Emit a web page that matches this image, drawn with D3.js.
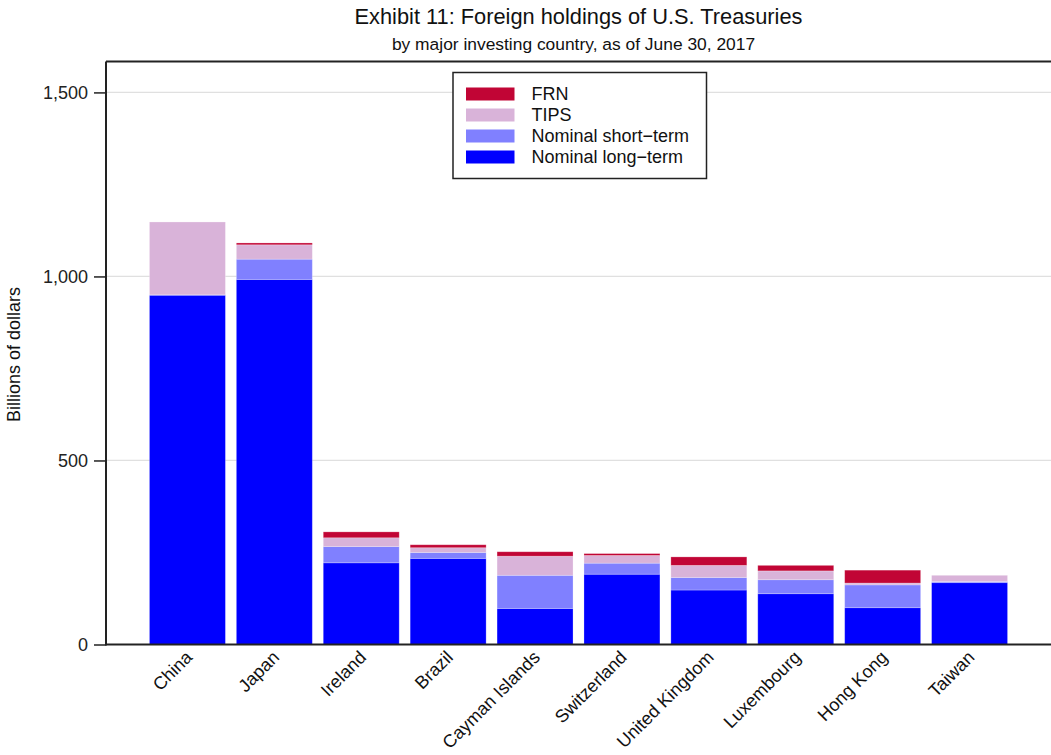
<!DOCTYPE html>
<html>
<head>
<meta charset="utf-8">
<script src="https://cdn.jsdelivr.net/npm/d3@7"></script>
<style>
  body { margin: 0; background: #fff; }
  svg { display: block; font-family: "Liberation Sans", Arial, sans-serif; }
</style>
</head>
<body>
<svg id="chart" width="1051" height="755"></svg>
<script>
const countries = ["China", "Japan", "Ireland", "Brazil", "Cayman Islands", "Switzerland", "United Kingdom", "Luxembourg", "Hong Kong", "Taiwan"];
const nominalLong  = [949, 992, 222, 234, 98, 191, 148, 138, 100, 168];
const nominalShort = [1, 55, 44, 16, 90, 30, 34, 38, 62, 3];
const tips         = [198, 39, 24, 13, 52, 21, 33, 24, 5, 17];
const frn          = [0, 5, 16, 8, 12, 5, 23, 15, 35, 0];
const yTicks = [0, 500, 1000, 1500];
const seriesNames = ["Nominal long\u2212term", "Nominal short\u2212term", "TIPS", "FRN"];
const seriesColors = ["#0000FF", "#8080FF", "#D9B3D9", "#C10535"];

const svg = d3.select("#chart");
const pLeft = 106, pRight = 1051, pTop = 61.5, pBottom = 644.5;

const rows = countries.map((c, i) => ({
  country: c, s0: nominalLong[i], s1: nominalShort[i], s2: tips[i], s3: frn[i]
}));
const stacked = d3.stack().keys(["s0", "s1", "s2", "s3"])(rows);

const x = d3.scaleBand().domain(countries).range([pLeft, pRight]).paddingInner(0.126).paddingOuter(0.5);
const y = d3.scaleLinear().domain([0, 1584]).range([pBottom, pTop]);

// gridlines
svg.append("g").selectAll("line").data(yTicks.filter(d => d > 0)).join("line")
  .attr("x1", pLeft).attr("x2", pRight)
  .attr("y1", d => y(d)).attr("y2", d => y(d))
  .attr("stroke", "#e0e0e0").attr("stroke-width", 1.2);

// bars
svg.append("g").selectAll("g").data(stacked).join("g")
  .attr("fill", (d, i) => seriesColors[i])
  .selectAll("rect").data(d => d).join("rect")
  .attr("x", d => x(d.data.country))
  .attr("width", x.bandwidth())
  .attr("y", d => y(d[1]))
  .attr("height", d => Math.max(0, y(d[0]) - y(d[1])))
  .attr("stroke", "#fff").attr("stroke-opacity", 0.3).attr("stroke-width", 0.8);

// y axis
const yAxis = d3.axisLeft(y).tickValues(yTicks).tickFormat(d3.format(",")).tickSizeOuter(0).tickSize(12).tickPadding(6);
const gy = svg.append("g").attr("transform", `translate(${pLeft},0)`).call(yAxis);
gy.select(".domain").remove();
gy.selectAll(".tick line").attr("stroke", "#222").attr("stroke-width", 1.5);
gy.selectAll(".tick text").attr("font-size", 18).attr("fill", "#222").attr("font-family", "Liberation Sans, Arial, sans-serif");

// frame lines
svg.append("line").attr("x1", pLeft).attr("x2", pLeft).attr("y1", pTop).attr("y2", pBottom + 1)
  .attr("stroke", "#222").attr("stroke-width", 2);
svg.append("line").attr("x1", pLeft).attr("x2", pRight).attr("y1", pTop).attr("y2", pTop)
  .attr("stroke", "#222").attr("stroke-width", 2);
svg.append("line").attr("x1", pLeft).attr("x2", pRight).attr("y1", pBottom).attr("y2", pBottom)
  .attr("stroke", "#222").attr("stroke-width", 2);

// x labels
svg.append("g").selectAll("text").data(countries).join("text")
  .attr("transform", d => `translate(${x(d) + x.bandwidth() / 2 + 6},${pBottom + 14}) rotate(-45)`)
  .attr("text-anchor", "end")
  .attr("font-size", 18)
  .attr("fill", "#111")
  .text(d => d);

// y title
svg.append("text")
  .attr("transform", `translate(20,354.5) rotate(-90)`)
  .attr("text-anchor", "middle")
  .attr("font-size", 18)
  .attr("fill", "#111")
  .text("Billions of dollars");

// titles
svg.append("text").attr("x", (pLeft + pRight) / 2).attr("y", 24)
  .attr("text-anchor", "middle").attr("font-size", 21.8).attr("fill", "#111")
  .text("Exhibit 11: Foreign holdings of U.S. Treasuries");
svg.append("text").attr("x", (pLeft + pRight) / 2 - 5).attr("y", 50)
  .attr("text-anchor", "middle").attr("font-size", 17.4).attr("fill", "#111")
  .text("by major investing country, as of June 30, 2017");

// legend
const lg = svg.append("g");
lg.append("rect").attr("x", 453).attr("y", 72.5).attr("width", 253.5).attr("height", 106)
  .attr("fill", "#fff").attr("stroke", "#222").attr("stroke-width", 1.5);
const legendOrder = [3, 2, 1, 0];
legendOrder.forEach((si, r) => {
  const cy = 94 + r * 21;
  lg.append("rect").attr("x", 466).attr("y", cy - 6.5).attr("width", 48.5).attr("height", 13)
    .attr("fill", seriesColors[si]);
  lg.append("text").attr("x", 531.5).attr("y", cy + 6.3).attr("font-size", 18).attr("fill", "#111")
    .text(seriesNames[si]);
});
</script>
</body>
</html>
